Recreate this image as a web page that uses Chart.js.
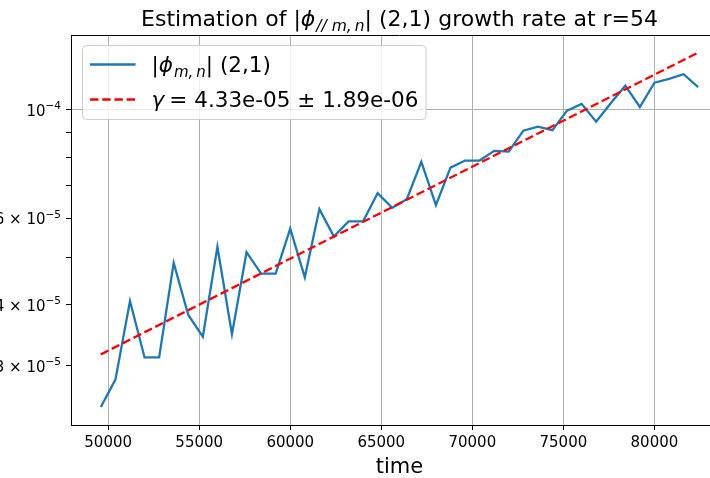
<!DOCTYPE html>
<html>
<head>
<meta charset="utf-8">
<script src="https://cdn.jsdelivr.net/npm/chart.js@4.4.1/dist/chart.umd.min.js"></script>
<style>
  html, body { margin: 0; padding: 0; background: #fff; }
  #wrap { width: 710px; height: 478px; overflow: hidden; }
  canvas { display: block; }
</style>
</head>
<body>
<div id="wrap"><canvas id="growthChart" width="740" height="478"></canvas></div>
<script>
// sampled |phi_(2,1)| amplitude at r=54
const times = [49600, 50400, 51200, 52000, 52800, 53600, 54400, 55200, 56000, 56800,
  57600, 58400, 59200, 60000, 60800, 61600, 62400, 63200, 64000, 64800,
  65600, 66400, 67200, 68000, 68800, 69600, 70400, 71200, 72000, 72800,
  73600, 74400, 75200, 76000, 76800, 77600, 78400, 79200, 80000, 80800,
  81600, 82400];
const amplitude = [2.47e-5, 2.81e-5, 4.07e-5, 3.12e-5, 3.12e-5, 4.87e-5, 3.81e-5, 3.44e-5, 5.25e-5, 3.48e-5,
  5.12e-5, 4.63e-5, 4.63e-5, 5.72e-5, 4.55e-5, 6.27e-5, 5.51e-5, 5.92e-5, 5.92e-5, 6.76e-5,
  6.31e-5, 6.57e-5, 7.83e-5, 6.39e-5, 7.62e-5, 7.88e-5, 7.88e-5, 8.25e-5, 8.22e-5, 9.07e-5,
  9.24e-5, 9.09e-5, 9.97e-5, 1.029e-4, 9.46e-5, 1.032e-4, 1.121e-4, 1.014e-4, 1.137e-4, 1.157e-4,
  1.183e-4, 1.114e-4];

// exponential fit, straight on the log axis: just the two ends
const fitTimes = [49600, 82400];
const fitValues = [3.165e-5, 1.31e-4];

const xTicks = [50000, 55000, 60000, 65000, 70000, 75000, 80000];
const yTicks = [3e-5, 4e-5, 5e-5, 6e-5, 7e-5, 8e-5, 9e-5, 1e-4];
const yLabelValues = [3e-5, 4e-5, 6e-5, 1e-4];
const yLabelMantissa = ['3 × 10', '4 × 10', '6 × 10', '10'];
const yLabelExponent = ['−5', '−5', '−5', '−4'];

const legendLabels = ['(2,1)', 'γ = 4.33e-05 ± 1.89e-06'];

const FONT = '"DejaVu Sans", sans-serif';
const BLUE = '#1f77b4';

// draw a row of text pieces (for the math bits: italic, subscripts)
function drawRuns(ctx, x, y, runs) {
  runs.forEach(r => {
    ctx.font = r.font;
    ctx.fillText(r.text, x, y + (r.dy || 0));
    x += ctx.measureText(r.text).width + (r.gap || 0);
  });
  return x;
}
function runsWidth(ctx, runs) {
  let w = 0;
  runs.forEach(r => { ctx.font = r.font; w += ctx.measureText(r.text).width + (r.gap || 0); });
  return w;
}

const decorations = {
  id: 'decorations',
  afterDraw(chart) {
    const ctx = chart.ctx;
    const area = chart.chartArea;
    const yScale = chart.scales.y;
    ctx.save();

    // top and right spines (matplotlib box)
    ctx.strokeStyle = '#000';
    ctx.lineWidth = 1;
    ctx.beginPath();
    ctx.moveTo(area.left, area.top + 0.5);
    ctx.lineTo(area.right, area.top + 0.5);
    ctx.moveTo(area.right - 0.5, area.top);
    ctx.lineTo(area.right - 0.5, area.bottom);
    ctx.stroke();

    ctx.fillStyle = '#000';
    ctx.textBaseline = 'alphabetic';

    // title
    const tf = '22px ' + FONT;
    const tfi = 'italic 22px ' + FONT;
    const tsub = 'italic 15.5px ' + FONT;
    const titleRuns = [
      { text: 'Estimation of |', font: tf },
      { text: 'ϕ', font: tfi, gap: 1 },
      { text: '// m,\u2009n', font: tsub, dy: 4.5 },
      { text: '| (2,1) growth rate at r=54', font: tf }
    ];
    const cx = (area.left + area.right) / 2;
    drawRuns(ctx, cx - runsWidth(ctx, titleRuns) / 2, 26, titleRuns);

    // x axis label
    ctx.font = '21px ' + FONT;
    ctx.textAlign = 'center';
    ctx.fillText('time', cx, 473);
    ctx.textAlign = 'left';

    // y tick labels with superscript exponents
    yLabelValues.forEach((v, i) => {
      const py = yScale.getPixelForValue(v);
      const right = area.left - 10;
      ctx.font = '10.5px ' + FONT;
      const ew = ctx.measureText(yLabelExponent[i]).width;
      ctx.fillText(yLabelExponent[i], right - ew, py - 0.5);
      ctx.font = '15px ' + FONT;
      const mw = ctx.measureText(yLabelMantissa[i]).width;
      ctx.fillText(yLabelMantissa[i], right - ew - mw, py + 6);
    });

    // legend
    const bx = 82.5, by = 45.5, bw = 343.5, bh = 74, r = 4;
    ctx.beginPath();
    ctx.roundRect(bx, by, bw, bh, r);
    ctx.fillStyle = 'rgba(255,255,255,0.8)';
    ctx.fill();
    ctx.strokeStyle = '#cccccc';
    ctx.lineWidth = 1;
    ctx.stroke();

    ctx.lineWidth = 2.3;
    ctx.strokeStyle = BLUE;
    ctx.beginPath();
    ctx.moveTo(90, 64.5);
    ctx.lineTo(135.5, 64.5);
    ctx.stroke();

    ctx.strokeStyle = '#ff0000';
    ctx.setLineDash([8.5, 3.7]);
    ctx.beginPath();
    ctx.moveTo(90, 99.5);
    ctx.lineTo(135.5, 99.5);
    ctx.stroke();
    ctx.setLineDash([]);

    ctx.fillStyle = '#000';
    const lf = '21.5px ' + FONT;
    const lfi = 'italic 21.5px ' + FONT;
    drawRuns(ctx, 151.5, 72, [
      { text: '|', font: lf },
      { text: 'ϕ', font: lfi, gap: 1 },
      { text: 'm,\u2009n', font: 'italic 15px ' + FONT, dy: 4.5 },
      { text: '| ', font: lf },
      { text: legendLabels[0], font: lf }
    ]);
    const eq = legendLabels[1].split(' = ');
    drawRuns(ctx, 151.5, 107, [
      { text: 'γ', font: lfi, gap: 5 },
      { text: '=', font: lf, gap: 7 },
      { text: eq[1], font: lf }
    ]);

    ctx.restore();
  }
};

new Chart(document.getElementById('growthChart'), {
  type: 'line',
  data: {
    datasets: [
      {
        label: '|phi_m,n| (2,1)',
        data: times.map((t, i) => ({ x: t, y: amplitude[i] })),
        borderColor: BLUE,
        borderWidth: 2.3,
        pointRadius: 0,
        tension: 0,
        order: 2
      },
      {
        label: legendLabels[1],
        data: fitTimes.map((t, i) => ({ x: t, y: fitValues[i] })),
        borderColor: '#ff0000',
        borderWidth: 2.3,
        borderDash: [8.5, 3.7],
        pointRadius: 0,
        tension: 0,
        order: 1
      }
    ]
  },
  options: {
    responsive: false,
    animation: false,
    events: [],
    layout: { padding: { left: 0, right: 12, top: 35, bottom: 0 } },
    plugins: {
      legend: { display: false },
      title: { display: false },
      tooltip: { enabled: false }
    },
    scales: {
      x: {
        type: 'linear',
        min: 47960,
        max: 84040,
        afterBuildTicks: (scale) => { scale.ticks = xTicks.map(v => ({ value: v })); },
        afterFit: (scale) => { scale.height = 53; },
        grid: { color: '#b0b0b0', lineWidth: 1, tickColor: '#000', tickLength: 5 },
        border: { color: '#000', width: 1 },
        ticks: {
          color: '#000',
          padding: 4,
          maxRotation: 0,
          font: { family: 'DejaVu Sans', size: 15 },
          callback: (v) => String(v)
        }
      },
      y: {
        type: 'logarithmic',
        min: 2.27e-5,
        max: 1.423e-4,
        afterBuildTicks: (scale) => { scale.ticks = yTicks.map(v => ({ value: v })); },
        afterFit: (scale) => { scale.width = 71; },
        grid: {
          color: (c) => (c.tick && c.tick.value === 1e-4 ? '#b0b0b0' : 'rgba(0,0,0,0)'),
          lineWidth: 1,
          tickColor: '#000',
          tickLength: 5
        },
        border: { color: '#000', width: 1 },
        ticks: {
          color: '#000',
          font: { family: 'DejaVu Sans', size: 15 },
          callback: () => ''
        }
      }
    }
  },
  plugins: [decorations]
});
</script>
</body>
</html>
